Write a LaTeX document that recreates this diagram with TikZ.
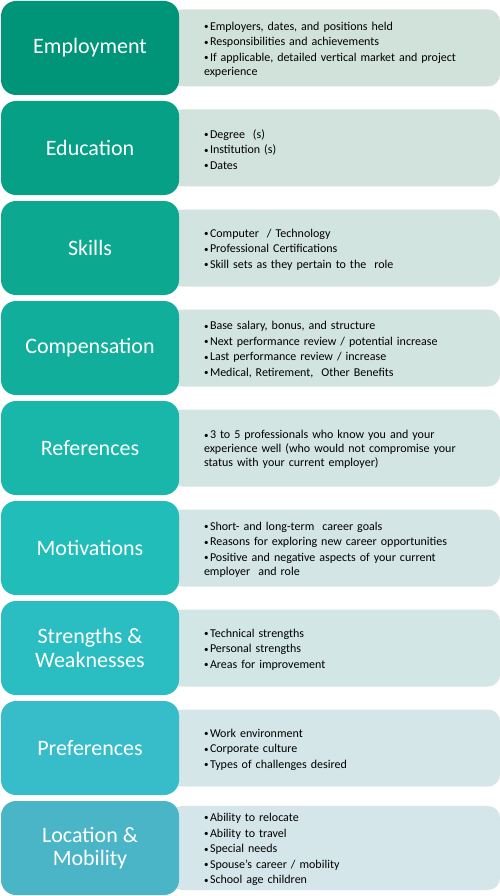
\documentclass[tikz,border=0pt]{standalone}
\usepackage{fontspec}
\setmainfont{Carlito}
\usetikzlibrary{positioning}

\definecolor{c1}{HTML}{009579}
\definecolor{c2}{HTML}{06A086}
\definecolor{c3}{HTML}{0DA890}
\definecolor{c4}{HTML}{12AE9C}
\definecolor{c5}{HTML}{18B7A9}
\definecolor{c6}{HTML}{20BDB9}
\definecolor{c7}{HTML}{2ABEC3}
\definecolor{c8}{HTML}{37BCC9}
\definecolor{c9}{HTML}{4AB5C7}
\definecolor{d1}{HTML}{D1E2DA}
\definecolor{d2}{HTML}{D1E3DC}
\definecolor{d3}{HTML}{D2E4DF}
\definecolor{d4}{HTML}{D2E4E0}
\definecolor{d5}{HTML}{D2E5E2}
\definecolor{d6}{HTML}{D3E5E4}
\definecolor{d7}{HTML}{D3E6E6}
\definecolor{d8}{HTML}{D4E6E8}
\definecolor{d9}{HTML}{D5E6EB}

% one bullet line, wrapped lines hang under the text
\newcommand{\itm}[1]{\par\hangindent=6pt\hangafter=1\noindent\makebox[6pt][l]{\raisebox{0.6pt}{\fontsize{9}{9}\selectfont\textbullet}}#1}
% lifts the bullet list a little inside its box
\newcommand{\liftgap}{\par\vspace{4pt}}

\begin{document}
\begin{tikzpicture}[x=1pt,y=-1pt,outer sep=0pt,
      topic/.style={fill=#1,rounded corners=15pt,minimum width=178pt,minimum height=94pt,
        inner sep=0pt,align=center,text=white,font=\fontsize{22}{23.5}\selectfont},
      detail/.style={fill=#1,rounded corners=12pt,minimum height=77pt,text width=262pt,
        inner xsep=34pt,inner ysep=0pt,align=left,anchor=west,
        font=\fontsize{12}{14}\selectfont\setlength{\parskip}{1.6pt},
        execute at end node=\liftgap}]
      \useasboundingbox (0,0) rectangle (500,896);

      \node[detail=d1] (empl-d) at (170,48) {\itm{Employers, dates, and positions held}\itm{Responsibilities and achievements}\itm{If applicable, detailed vertical market and project\newline experience}};
      \node[topic=c1] (empl) [left=-9pt of empl-d] {Employment};

      \node[detail=d2] (educ-d) at (170,148) {\itm{Degree\ \ (s)}\itm{Institution (s)}\itm{Dates}};
      \node[topic=c2] (educ) [left=-9pt of educ-d] {Education};

      \node[detail=d3] (skil-d) at (170,248) {\itm{Computer\ \ / Technology}\itm{Professional Certifications}\itm{Skill sets as they pertain to the\ \ role}};
      \node[topic=c3] (skil) [left=-9pt of skil-d] {Skills};

      \node[detail=d4] (comp-d) at (170,348) {\itm{Base salary, bonus, and structure}\itm{Next performance review / potential increase}\itm{Last performance review / increase}\itm{Medical, Retirement,\ \ Other Benefits}};
      \node[topic=c4] (comp) [left=-9pt of comp-d] {Compensation};

      \node[detail=d5] (refs-d) at (170,448) {\itm{3 to 5 professionals who know you and your\newline experience well (who would not compromise your\newline status with your current employer)}};
      \node[topic=c5] (refs) [left=-9pt of refs-d] {References};

      \node[detail=d6] (moti-d) at (170,548) {\itm{Short- and long-term\ \ career goals}\itm{Reasons for exploring new career opportunities}\itm{Positive and negative aspects of your current\newline employer\ \ and role}};
      \node[topic=c6] (moti) [left=-9pt of moti-d] {Motivations};

      \node[detail=d7] (stre-d) at (170,648) {\itm{Technical strengths}\itm{Personal strengths}\itm{Areas for improvement}};
      \node[topic=c7] (stre) [left=-9pt of stre-d] {Strengths \&\\Weaknesses};

      \node[detail=d8] (pref-d) at (170,748) {\itm{Work environment}\itm{Corporate culture}\itm{Types of challenges desired}};
      \node[topic=c8] (pref) [left=-9pt of pref-d] {Preferences};

      \node[detail=d9] (loca-d) at (170,848) {\itm{Ability to relocate}\itm{Ability to travel}\itm{Special needs}\itm{Spouse's career / mobility}\itm{School age children}};
      \node[topic=c9] (loca) [left=-9pt of loca-d] {Location \&\\Mobility};
\end{tikzpicture}
\end{document}
